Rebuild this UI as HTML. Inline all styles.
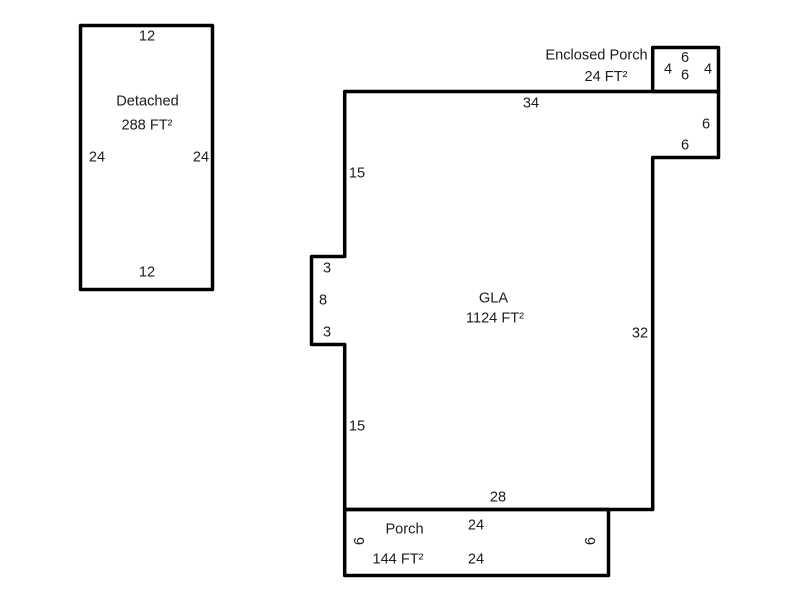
<!DOCTYPE html>
<html><head><meta charset="utf-8"><style>html,body{margin:0;padding:0;background:#fff}svg{display:block}text{font-family:"Liberation Sans",Arial,sans-serif;font-size:14.6px;fill:#1c1c1c;text-anchor:middle}</style></head><body>
<svg width="800" height="600" viewBox="0 0 800 600" xmlns="http://www.w3.org/2000/svg">
<g fill="none" stroke="#000" stroke-width="3.5" stroke-linejoin="round">
<rect x="80.5" y="25.5" width="132" height="264"/>
<path d="M344.7 91.5H718.5V157.5H652.7V509.5H344.7V344.5H311.5V256.5H344.7Z"/>
<rect x="652.7" y="47.5" width="65.8" height="44"/>
<rect x="344.7" y="509.5" width="263.8" height="66"/>
</g>
<text x="147" y="40.5">12</text><text x="147.5" y="105.5">Detached</text><text x="147" y="129.5">288 FT²</text><text x="97" y="161.5">24</text><text x="201" y="161.5">24</text><text x="147" y="276.5">12</text>
<text x="596.5" y="59.5">Enclosed Porch</text><text x="606" y="81">24 FT²</text><text x="685" y="62">6</text><text x="685" y="79.5">6</text><text x="668" y="73.5">4</text><text x="708" y="73.5">4</text>
<text x="531" y="107.5">34</text><text x="706" y="128.5">6</text><text x="685" y="149.5">6</text><text x="357" y="177.5">15</text><text x="327" y="272.5">3</text><text x="323" y="304.5">8</text><text x="327" y="336.5">3</text><text x="493.5" y="302.5">GLA</text><text x="495" y="322.5">1124 FT²</text><text x="640" y="337.5">32</text><text x="357" y="430.5">15</text><text x="498" y="501.5">28</text>
<text x="404.5" y="533.5">Porch</text><text x="476" y="529.5">24</text><text x="398" y="563.5">144 FT²</text><text x="476" y="563.5">24</text>
<text transform="translate(364 541) rotate(-90)">6</text><text transform="translate(595 541) rotate(-90)">6</text>
</svg></body></html>
